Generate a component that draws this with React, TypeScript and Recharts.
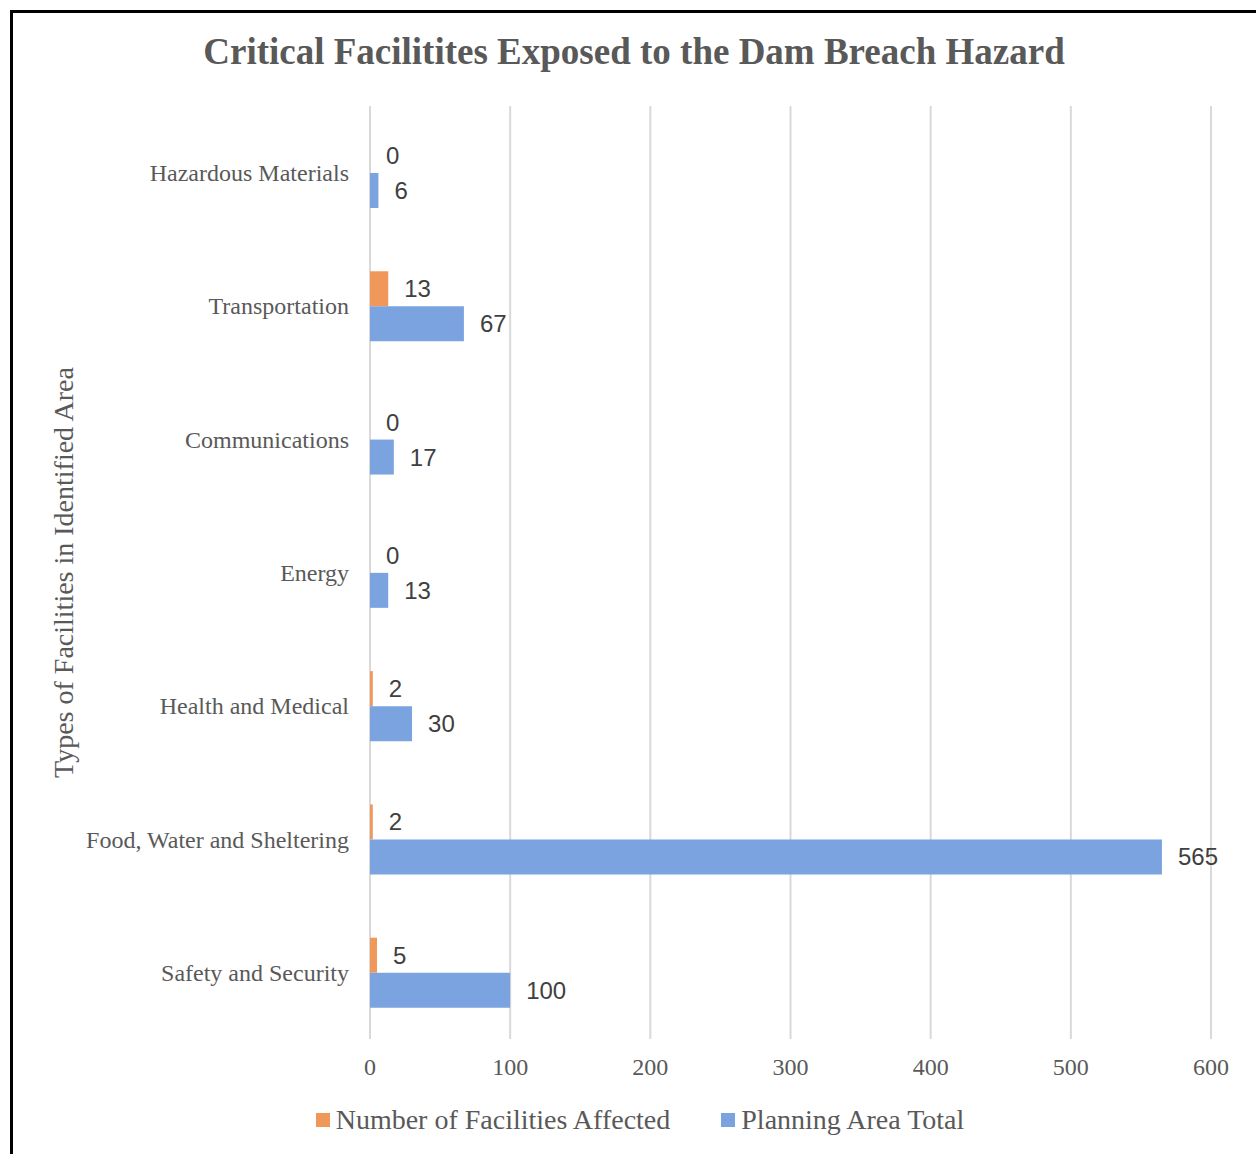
import React from 'react';
import { BarChart, Bar, XAxis, YAxis, CartesianGrid, LabelList, Legend, Label } from 'recharts';

const categories = [
  'Hazardous Materials',
  'Transportation',
  'Communications',
  'Energy',
  'Health and Medical',
  'Food, Water and Sheltering',
  'Safety and Security',
];
const affected = [0, 13, 0, 0, 2, 2, 5];
const planningTotal = [6, 67, 17, 13, 30, 565, 100];
const xTicks = [0, 100, 200, 300, 400, 500, 600];

const seriesNames = ['Number of Facilities Affected', 'Planning Area Total'];
const colors = ['#F0985A', '#7BA3E0'];

const data = categories.map((name, i) => ({
  name,
  affected: affected[i],
  total: planningTotal[i],
}));

const serif = "'Liberation Serif', 'Times New Roman', serif";
const sans = "'Liberation Sans', Arial, sans-serif";

const renderLegend = (props: any) => {
  const payload = props.payload || [];
  return (
    <div style={{ display: 'flex', justifyContent: 'center', alignItems: 'center', fontFamily: serif, fontSize: 28, color: '#595959' }}>
      {payload.map((entry: any, i: number) => (
        <div key={i} style={{ display: 'flex', alignItems: 'center', marginLeft: i === 0 ? 0 : 51 }}>
          <span style={{ display: 'inline-block', width: 14, height: 14, background: entry.color, marginRight: 6 }} />
          <span>{entry.value}</span>
        </div>
      ))}
    </div>
  );
};

const YTitle = (props: any) => {
  const vb = props.viewBox || { x: 0, y: 0, width: 0, height: 0 };
  const x = vb.x + 63;
  const y = vb.y + vb.height / 2;
  return (
    <text
      x={x}
      y={y}
      transform={`rotate(-90, ${x}, ${y})`}
      textAnchor="middle"
      dominantBaseline="central"
      fill="#595959"
      fontFamily={serif}
      fontSize={28}
    >
      Types of Facilities in Identified Area
    </text>
  );
};

const ValueLabel = (props: any) => {
  const { x, y, width, height, value } = props;
  const lx = Number(x) + Number(width || 0) + 16;
  const ly = Number(y) + Number(height) / 2;
  return (
    <text x={lx} y={ly} textAnchor="start" dominantBaseline="central" fill="#404040" fontFamily={sans} fontSize={24}>
      {value}
    </text>
  );
};

export default function App() {
  return (
    <div style={{ position: 'absolute', left: 0, top: 0, width: 1256, height: 1154, overflow: 'hidden', background: '#fff' }}>
      <div
        style={{
          position: 'absolute',
          left: 10,
          top: 10,
          width: 1300,
          height: 1200,
          borderLeft: '3px solid #000',
          borderTop: '3px solid #000',
          boxSizing: 'border-box',
        }}
      />
      <div
        style={{
          position: 'absolute',
          top: 29,
          left: 0,
          width: 1268,
          textAlign: 'center',
          fontFamily: serif,
          fontWeight: 'bold',
          fontSize: 37,
          color: '#595959',
          lineHeight: '46px',
        }}
      >
        Critical Facilitites Exposed to the Dam Breach Hazard
      </div>
      <div style={{ position: 'absolute', left: 0, top: 0 }}>
        <BarChart
          width={1256}
          height={1154}
          data={data}
          layout="vertical"
          margin={{ top: 106, right: 45, bottom: 75, left: 0 }}
          barCategoryGap="24%"
          barGap={0}
        >
          <CartesianGrid horizontal={false} vertical={true} stroke="#D9D9D9" strokeWidth={2} />
          <XAxis
            type="number"
            domain={[0, 600]}
            ticks={xTicks}
            axisLine={false}
            tickLine={false}
            tickSize={0}
            tickMargin={19}
            height={40}
            interval={0}
            tick={{ fill: '#595959', fontFamily: serif, fontSize: 24 }}
          />
          <YAxis
            type="category"
            dataKey="name"
            width={370}
            axisLine={false}
            tickLine={false}
            tickSize={0}
            tickMargin={21}
            interval={0}
            tick={{ fill: '#595959', fontFamily: serif, fontSize: 24 }}
          >
            <Label content={<YTitle />} />
          </YAxis>
          <Legend
            layout="horizontal"
            verticalAlign="middle"
            align="center"
            wrapperStyle={{ top: 1104, left: 0, width: 1280 }}
            content={renderLegend}
          />
          <Bar dataKey="affected" name={seriesNames[0]} fill={colors[0]} minPointSize={0.01} isAnimationActive={false}>
            <LabelList dataKey="affected" content={<ValueLabel />} />
          </Bar>
          <Bar dataKey="total" name={seriesNames[1]} fill={colors[1]} isAnimationActive={false}>
            <LabelList dataKey="total" content={<ValueLabel />} />
          </Bar>
        </BarChart>
      </div>
    </div>
  );
}
